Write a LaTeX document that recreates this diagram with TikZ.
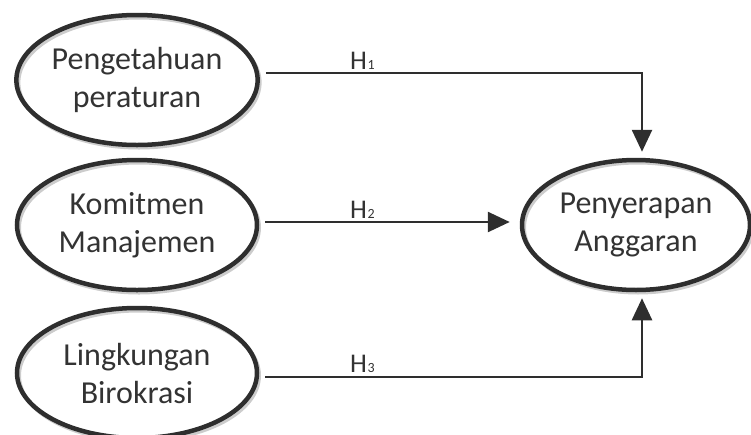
\documentclass[tikz,border=0pt]{standalone}
\usepackage{fontspec}
\setmainfont{Carlito}
\usetikzlibrary{shapes.geometric,shadows,arrows.meta}
\definecolor{ink}{HTML}{2E2E2E}
\definecolor{txt}{HTML}{333333}
\newcommand{\hlabel}[1]{H{\fontsize{14}{14}\selectfont\kern0.5pt#1}}
\begin{document}
\begin{tikzpicture}[x=1pt,y=-1pt,
  construct/.style={ellipse, draw=ink, line width=4.5pt,
    minimum width=240pt, minimum height=130pt, inner sep=0pt,
    text=txt, align=center, font=\fontsize{32}{38}\selectfont,
    general shadow={shadow xshift=2pt, shadow yshift=-2.5pt,
      draw=black!20, line width=4pt}},
  conn/.style={draw=ink, line width=2.6pt,
    -{Triangle[length=22pt,width=20pt]}},
  hyp/.style={text=txt, font=\fontsize{27}{27}\selectfont,
    inner sep=0pt, anchor=base west}]
\useasboundingbox (0,0) rectangle (751,434);

% constructs
\node[construct] (pk) at (137,80)  {Pengetahuan\\peraturan};
\node[construct] (km) at (137,225) {Komitmen\\Manajemen};
\node[construct] (lb) at (137,373) {Lingkungan\\Birokrasi};
\node[construct, minimum width=228pt] (py) at (636,225) {Penyerapan\\Anggaran};

% hypothesised paths
\draw[conn] ([shift={(6,-7)}]pk.east) -| ([shift={(6,-6)}]py.north);
\draw[conn] ([shift={(6,-3)}]km.east) -- ([shift={(-10,-3)}]py.west);
\draw[conn] ([shift={(6,4)}]lb.east) -| ([shift={(6,6)}]py.south);

% path labels
\node[hyp] (h1) at (350,69)  {\hlabel{1}};
\node[hyp] (h2) at (350,218) {\hlabel{2}};
\node[hyp] (h3) at (350,372) {\hlabel{3}};
\end{tikzpicture}
\end{document}
